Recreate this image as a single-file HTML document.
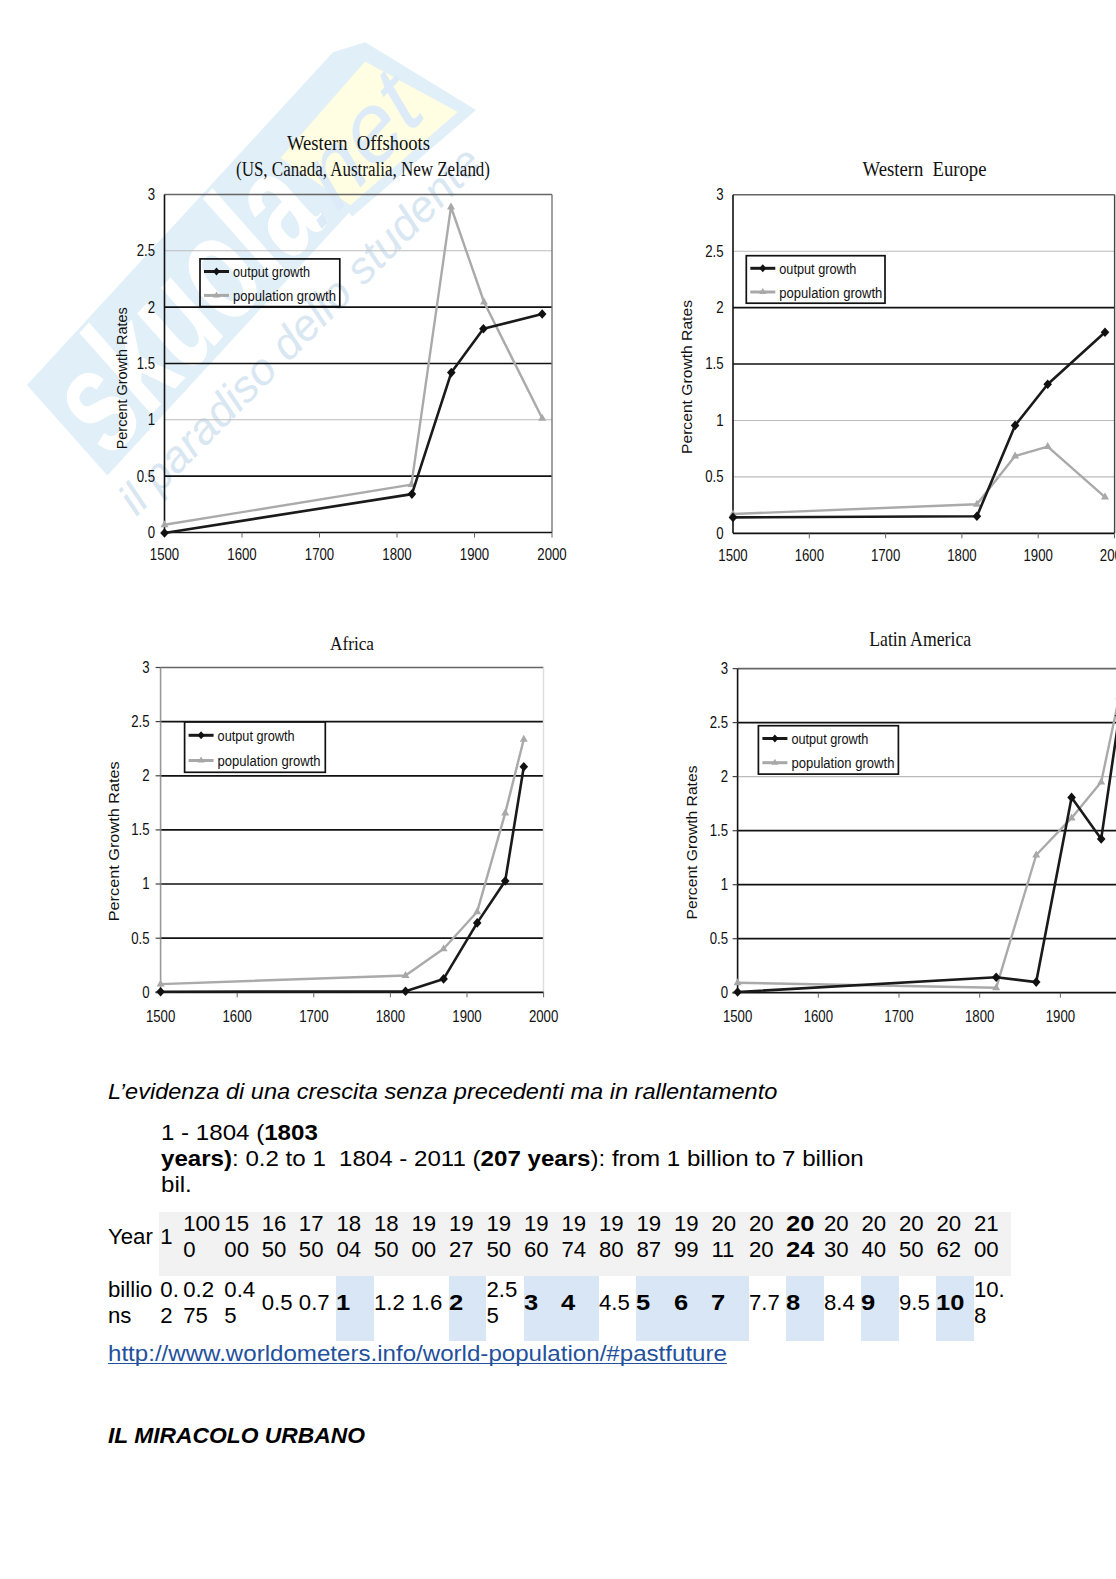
<!DOCTYPE html>
<html><head><meta charset="utf-8">
<style>
html,body{margin:0;padding:0;background:#fff;}
body{width:1116px;height:1579px;position:relative;overflow:hidden;font-family:"Liberation Sans",sans-serif;}
svg{position:absolute;left:0;top:0;}
.ax{font-family:"Liberation Sans",sans-serif;font-size:13.5px;fill:#111;}
.tt{font-family:"Liberation Serif",serif;font-size:19px;fill:#111;}
.t{position:absolute;white-space:nowrap;color:#000;font-size:21.5px;line-height:26px;transform-origin:0 0;transform:scaleX(1.121);}
.cell{position:absolute;white-space:nowrap;color:#000;font-size:22.2px;line-height:25.7px;transform-origin:0 0;}
b{font-weight:bold;}
.cell b{display:inline-block;transform-origin:0 0;transform:scaleX(1.15);}
</style></head><body>
<svg width="1116" height="1579" viewBox="0 0 1116 1579">
<g transform="matrix(0.677 -0.736 0.664 0.748 27 385)">
<polygon points="0,0 452,0 483,17 521,145 357,126 357,121 0,121" fill="#e1eff9"/>
<polygon points="342,33 470,30 506,133 363,117" fill="#fffde2"/>
<text x="10" y="112" fill="#fff" style="font-family:'Liberation Sans',sans-serif;font-weight:bold;font-size:150px" textLength="325" lengthAdjust="spacingAndGlyphs">skuola</text>
<text x="322" y="112" fill="#dcebf7" style="font-family:'Liberation Sans',sans-serif;font-style:italic;font-size:95px" textLength="160" lengthAdjust="spacingAndGlyphs">.net</text>
</g>
<g transform="translate(136.5 517) rotate(-45.4)">
<text x="0" y="0" fill="#d9e7f2" style="font-family:'Liberation Sans',sans-serif;font-style:italic;font-size:44px" textLength="495" lengthAdjust="spacingAndGlyphs">il paradiso dello studente</text>
</g>
</svg>
<svg width="1116" height="1579" viewBox="0 0 1116 1579">
<line x1="164.5" y1="194.5" x2="552" y2="194.5" stroke="#666" stroke-width="1.6"/>
<line x1="164.5" y1="250.8" x2="552" y2="250.8" stroke="#bbb" stroke-width="1.1"/>
<line x1="164.5" y1="307.2" x2="552" y2="307.2" stroke="#111" stroke-width="1.7"/>
<line x1="164.5" y1="363.5" x2="552" y2="363.5" stroke="#111" stroke-width="1.7"/>
<line x1="164.5" y1="419.8" x2="552" y2="419.8" stroke="#bbb" stroke-width="1.1"/>
<line x1="164.5" y1="476.2" x2="552" y2="476.2" stroke="#111" stroke-width="1.7"/>
<line x1="552" y1="194.5" x2="552" y2="532.5" stroke="#777" stroke-width="1.4"/>
<line x1="164.5" y1="532.5" x2="552" y2="532.5" stroke="#111" stroke-width="1.7"/>
<line x1="164.5" y1="194.5" x2="164.5" y2="532.5" stroke="#111" stroke-width="1.6"/>
<line x1="242" y1="532.5" x2="242" y2="537.5" stroke="#666" stroke-width="1"/>
<line x1="319.5" y1="532.5" x2="319.5" y2="537.5" stroke="#666" stroke-width="1"/>
<line x1="397" y1="532.5" x2="397" y2="537.5" stroke="#666" stroke-width="1"/>
<line x1="474.5" y1="532.5" x2="474.5" y2="537.5" stroke="#666" stroke-width="1"/>
<line x1="552" y1="532.5" x2="552" y2="537.5" stroke="#666" stroke-width="1"/>
<text transform="translate(155 199.8) scale(0.8 1)" text-anchor="end" class="ax" style="font-size:16.5px" fill="#111">3</text>
<text transform="translate(155 256.1) scale(0.8 1)" text-anchor="end" class="ax" style="font-size:16.5px" fill="#111">2.5</text>
<text transform="translate(155 312.5) scale(0.8 1)" text-anchor="end" class="ax" style="font-size:16.5px" fill="#111">2</text>
<text transform="translate(155 368.8) scale(0.8 1)" text-anchor="end" class="ax" style="font-size:16.5px" fill="#111">1.5</text>
<text transform="translate(155 425.1) scale(0.8 1)" text-anchor="end" class="ax" style="font-size:16.5px" fill="#111">1</text>
<text transform="translate(155 481.5) scale(0.8 1)" text-anchor="end" class="ax" style="font-size:16.5px" fill="#111">0.5</text>
<text transform="translate(155 537.8) scale(0.8 1)" text-anchor="end" class="ax" style="font-size:16.5px" fill="#111">0</text>
<text transform="translate(164.5 559.8) scale(0.8 1)" text-anchor="middle" class="ax" style="font-size:16.5px" fill="#111">1500</text>
<text transform="translate(242 559.8) scale(0.8 1)" text-anchor="middle" class="ax" style="font-size:16.5px" fill="#111">1600</text>
<text transform="translate(319.5 559.8) scale(0.8 1)" text-anchor="middle" class="ax" style="font-size:16.5px" fill="#111">1700</text>
<text transform="translate(397 559.8) scale(0.8 1)" text-anchor="middle" class="ax" style="font-size:16.5px" fill="#111">1800</text>
<text transform="translate(474.5 559.8) scale(0.8 1)" text-anchor="middle" class="ax" style="font-size:16.5px" fill="#111">1900</text>
<text transform="translate(552 559.8) scale(0.8 1)" text-anchor="middle" class="ax" style="font-size:16.5px" fill="#111">2000</text>
<text transform="translate(127.4 378.3) rotate(-90)" text-anchor="middle" class="ax" style="font-size:15.5px" textLength="142" lengthAdjust="spacingAndGlyphs">Percent Growth Rates</text>
<text x="287" y="149.6" class="tt" style="font-size:20px" textLength="143" lengthAdjust="spacingAndGlyphs">Western&#160; Offshoots</text>
<text x="236" y="176.4" class="tt" style="font-size:20.5px" textLength="254" lengthAdjust="spacingAndGlyphs">(US, Canada, Australia, New Zeland)</text>
<polyline points="164.5,524.8 411.4,484.6 451,207 484,302 542.2,418.3" fill="none" stroke="#aaa" stroke-width="2.4" stroke-linejoin="round"/>
<path d="M164.5 520.3l4 7h-8z" fill="#a8a8a8"/>
<path d="M411.4 480.1l4 7h-8z" fill="#a8a8a8"/>
<path d="M451 202.5l4 7h-8z" fill="#a8a8a8"/>
<path d="M484 297.5l4 7h-8z" fill="#a8a8a8"/>
<path d="M542.2 413.8l4 7h-8z" fill="#a8a8a8"/>
<polyline points="164.5,533 411.9,494.1 451.3,372.6 483.4,328.7 542.2,314" fill="none" stroke="#1a1a1a" stroke-width="2.6" stroke-linejoin="round"/>
<path d="M164.5 528.2l4.3 4.8l-4.3 4.8l-4.3 -4.8z" fill="#111"/>
<path d="M411.9 489.3l4.3 4.8l-4.3 4.8l-4.3 -4.8z" fill="#111"/>
<path d="M451.3 367.8l4.3 4.8l-4.3 4.8l-4.3 -4.8z" fill="#111"/>
<path d="M483.4 323.9l4.3 4.8l-4.3 4.8l-4.3 -4.8z" fill="#111"/>
<path d="M542.2 309.2l4.3 4.8l-4.3 4.8l-4.3 -4.8z" fill="#111"/>
<rect x="200" y="258.9" width="139.8" height="47.7" fill="none" stroke="#111" stroke-width="1.7"/>
<line x1="204" y1="271.5" x2="229" y2="271.5" stroke="#1a1a1a" stroke-width="3"/>
<path d="M216.5 267.5l3.5 4l-3.5 4l-3.5 -4z" fill="#111"/>
<line x1="204" y1="295.4" x2="229" y2="295.4" stroke="#a8a8a8" stroke-width="3"/>
<path d="M216.5 291.4l3.5 6h-7z" fill="#a8a8a8"/>
<text x="233" y="277" class="ax" style="font-size:15.3px" textLength="77" lengthAdjust="spacingAndGlyphs">output growth</text>
<text x="233" y="300.9" class="ax" style="font-size:15.3px" textLength="103" lengthAdjust="spacingAndGlyphs">population growth</text>
<line x1="733" y1="194.8" x2="1114.6" y2="194.8" stroke="#666" stroke-width="1.6"/>
<line x1="733" y1="251.2" x2="1114.6" y2="251.2" stroke="#bbb" stroke-width="1.1"/>
<line x1="733" y1="307.6" x2="1114.6" y2="307.6" stroke="#111" stroke-width="1.7"/>
<line x1="733" y1="364" x2="1114.6" y2="364" stroke="#111" stroke-width="1.7"/>
<line x1="733" y1="420.5" x2="1114.6" y2="420.5" stroke="#bbb" stroke-width="1.1"/>
<line x1="733" y1="476.9" x2="1114.6" y2="476.9" stroke="#bbb" stroke-width="1.1"/>
<line x1="1114.6" y1="194.8" x2="1114.6" y2="533.3" stroke="#444" stroke-width="1.4"/>
<line x1="733" y1="533.3" x2="1114.6" y2="533.3" stroke="#111" stroke-width="1.7"/>
<line x1="733" y1="194.8" x2="733" y2="533.3" stroke="#111" stroke-width="1.6"/>
<line x1="809.3" y1="533.3" x2="809.3" y2="538.3" stroke="#666" stroke-width="1"/>
<line x1="885.6" y1="533.3" x2="885.6" y2="538.3" stroke="#666" stroke-width="1"/>
<line x1="961.9" y1="533.3" x2="961.9" y2="538.3" stroke="#666" stroke-width="1"/>
<line x1="1038.2" y1="533.3" x2="1038.2" y2="538.3" stroke="#666" stroke-width="1"/>
<line x1="1114.5" y1="533.3" x2="1114.5" y2="538.3" stroke="#666" stroke-width="1"/>
<text transform="translate(723.5 200.1) scale(0.8 1)" text-anchor="end" class="ax" style="font-size:16.5px" fill="#111">3</text>
<text transform="translate(723.5 256.5) scale(0.8 1)" text-anchor="end" class="ax" style="font-size:16.5px" fill="#111">2.5</text>
<text transform="translate(723.5 312.9) scale(0.8 1)" text-anchor="end" class="ax" style="font-size:16.5px" fill="#111">2</text>
<text transform="translate(723.5 369.3) scale(0.8 1)" text-anchor="end" class="ax" style="font-size:16.5px" fill="#111">1.5</text>
<text transform="translate(723.5 425.8) scale(0.8 1)" text-anchor="end" class="ax" style="font-size:16.5px" fill="#111">1</text>
<text transform="translate(723.5 482.2) scale(0.8 1)" text-anchor="end" class="ax" style="font-size:16.5px" fill="#111">0.5</text>
<text transform="translate(723.5 538.6) scale(0.8 1)" text-anchor="end" class="ax" style="font-size:16.5px" fill="#111">0</text>
<text transform="translate(733 560.6) scale(0.8 1)" text-anchor="middle" class="ax" style="font-size:16.5px" fill="#111">1500</text>
<text transform="translate(809.3 560.6) scale(0.8 1)" text-anchor="middle" class="ax" style="font-size:16.5px" fill="#111">1600</text>
<text transform="translate(885.6 560.6) scale(0.8 1)" text-anchor="middle" class="ax" style="font-size:16.5px" fill="#111">1700</text>
<text transform="translate(961.9 560.6) scale(0.8 1)" text-anchor="middle" class="ax" style="font-size:16.5px" fill="#111">1800</text>
<text transform="translate(1038.2 560.6) scale(0.8 1)" text-anchor="middle" class="ax" style="font-size:16.5px" fill="#111">1900</text>
<text transform="translate(1114.5 560.6) scale(0.8 1)" text-anchor="middle" class="ax" style="font-size:16.5px" fill="#111">2000</text>
<text transform="translate(692.3 377) rotate(-90)" text-anchor="middle" class="ax" style="font-size:15.5px" textLength="154" lengthAdjust="spacingAndGlyphs">Percent Growth Rates</text>
<text x="862.5" y="175.5" class="tt" style="font-size:21px" textLength="124" lengthAdjust="spacingAndGlyphs">Western&#160; Europe</text>
<polyline points="733,514 976.9,504.3 1015.1,455.9 1047.7,446.6 1105,497.1" fill="none" stroke="#aaa" stroke-width="2.4" stroke-linejoin="round"/>
<path d="M733 509.5l4 7h-8z" fill="#a8a8a8"/>
<path d="M976.9 499.8l4 7h-8z" fill="#a8a8a8"/>
<path d="M1015.1 451.4l4 7h-8z" fill="#a8a8a8"/>
<path d="M1047.7 442.1l4 7h-8z" fill="#a8a8a8"/>
<path d="M1105 492.6l4 7h-8z" fill="#a8a8a8"/>
<polyline points="733,517.4 976.9,516.3 1015.1,425.4 1047.7,384.2 1105,332.3" fill="none" stroke="#1a1a1a" stroke-width="2.6" stroke-linejoin="round"/>
<path d="M733 512.6l4.3 4.8l-4.3 4.8l-4.3 -4.8z" fill="#111"/>
<path d="M976.9 511.5l4.3 4.8l-4.3 4.8l-4.3 -4.8z" fill="#111"/>
<path d="M1015.1 420.6l4.3 4.8l-4.3 4.8l-4.3 -4.8z" fill="#111"/>
<path d="M1047.7 379.4l4.3 4.8l-4.3 4.8l-4.3 -4.8z" fill="#111"/>
<path d="M1105 327.5l4.3 4.8l-4.3 4.8l-4.3 -4.8z" fill="#111"/>
<rect x="746.3" y="255.7" width="138.7" height="47.5" fill="none" stroke="#111" stroke-width="1.7"/>
<line x1="750.3" y1="268.3" x2="775.3" y2="268.3" stroke="#1a1a1a" stroke-width="3"/>
<path d="M762.8 264.3l3.5 4l-3.5 4l-3.5 -4z" fill="#111"/>
<line x1="750.3" y1="292" x2="775.3" y2="292" stroke="#a8a8a8" stroke-width="3"/>
<path d="M762.8 288l3.5 6h-7z" fill="#a8a8a8"/>
<text x="779.3" y="273.8" class="ax" style="font-size:15.3px" textLength="77" lengthAdjust="spacingAndGlyphs">output growth</text>
<text x="779.3" y="297.5" class="ax" style="font-size:15.3px" textLength="103" lengthAdjust="spacingAndGlyphs">population growth</text>
<line x1="160.6" y1="667.5" x2="543.5" y2="667.5" stroke="#666" stroke-width="1.6"/>
<line x1="160.6" y1="721.6" x2="543.5" y2="721.6" stroke="#111" stroke-width="1.7"/>
<line x1="160.6" y1="775.8" x2="543.5" y2="775.8" stroke="#111" stroke-width="1.7"/>
<line x1="160.6" y1="829.9" x2="543.5" y2="829.9" stroke="#111" stroke-width="1.7"/>
<line x1="160.6" y1="884" x2="543.5" y2="884" stroke="#111" stroke-width="1.7"/>
<line x1="160.6" y1="938.2" x2="543.5" y2="938.2" stroke="#111" stroke-width="1.7"/>
<line x1="543.5" y1="667.5" x2="543.5" y2="992.3" stroke="#ddd" stroke-width="1.4"/>
<line x1="155.6" y1="992.3" x2="543.5" y2="992.3" stroke="#111" stroke-width="1.7"/>
<line x1="160.6" y1="667.5" x2="160.6" y2="992.3" stroke="#999" stroke-width="1.6"/>
<line x1="155.6" y1="667.5" x2="160.6" y2="667.5" stroke="#444" stroke-width="1.2"/>
<line x1="155.6" y1="721.6" x2="160.6" y2="721.6" stroke="#444" stroke-width="1.2"/>
<line x1="155.6" y1="775.8" x2="160.6" y2="775.8" stroke="#444" stroke-width="1.2"/>
<line x1="155.6" y1="829.9" x2="160.6" y2="829.9" stroke="#444" stroke-width="1.2"/>
<line x1="155.6" y1="884" x2="160.6" y2="884" stroke="#444" stroke-width="1.2"/>
<line x1="155.6" y1="938.2" x2="160.6" y2="938.2" stroke="#444" stroke-width="1.2"/>
<line x1="155.6" y1="992.3" x2="160.6" y2="992.3" stroke="#444" stroke-width="1.2"/>
<line x1="237.2" y1="992.3" x2="237.2" y2="997.3" stroke="#666" stroke-width="1"/>
<line x1="313.8" y1="992.3" x2="313.8" y2="997.3" stroke="#666" stroke-width="1"/>
<line x1="390.4" y1="992.3" x2="390.4" y2="997.3" stroke="#666" stroke-width="1"/>
<line x1="467" y1="992.3" x2="467" y2="997.3" stroke="#666" stroke-width="1"/>
<line x1="543.6" y1="992.3" x2="543.6" y2="997.3" stroke="#666" stroke-width="1"/>
<text transform="translate(149.6 672.8) scale(0.8 1)" text-anchor="end" class="ax" style="font-size:16.5px" fill="#111">3</text>
<text transform="translate(149.6 726.9) scale(0.8 1)" text-anchor="end" class="ax" style="font-size:16.5px" fill="#111">2.5</text>
<text transform="translate(149.6 781.1) scale(0.8 1)" text-anchor="end" class="ax" style="font-size:16.5px" fill="#111">2</text>
<text transform="translate(149.6 835.2) scale(0.8 1)" text-anchor="end" class="ax" style="font-size:16.5px" fill="#111">1.5</text>
<text transform="translate(149.6 889.3) scale(0.8 1)" text-anchor="end" class="ax" style="font-size:16.5px" fill="#111">1</text>
<text transform="translate(149.6 943.5) scale(0.8 1)" text-anchor="end" class="ax" style="font-size:16.5px" fill="#111">0.5</text>
<text transform="translate(149.6 997.6) scale(0.8 1)" text-anchor="end" class="ax" style="font-size:16.5px" fill="#111">0</text>
<text transform="translate(160.6 1021.5) scale(0.8 1)" text-anchor="middle" class="ax" style="font-size:16.5px" fill="#111">1500</text>
<text transform="translate(237.2 1021.5) scale(0.8 1)" text-anchor="middle" class="ax" style="font-size:16.5px" fill="#111">1600</text>
<text transform="translate(313.8 1021.5) scale(0.8 1)" text-anchor="middle" class="ax" style="font-size:16.5px" fill="#111">1700</text>
<text transform="translate(390.4 1021.5) scale(0.8 1)" text-anchor="middle" class="ax" style="font-size:16.5px" fill="#111">1800</text>
<text transform="translate(467 1021.5) scale(0.8 1)" text-anchor="middle" class="ax" style="font-size:16.5px" fill="#111">1900</text>
<text transform="translate(543.6 1021.5) scale(0.8 1)" text-anchor="middle" class="ax" style="font-size:16.5px" fill="#111">2000</text>
<text transform="translate(119.3 841.3) rotate(-90)" text-anchor="middle" class="ax" style="font-size:15.5px" textLength="160" lengthAdjust="spacingAndGlyphs">Percent Growth Rates</text>
<text x="330" y="649.6" class="tt" style="font-size:19.5px" textLength="44" lengthAdjust="spacingAndGlyphs">Africa</text>
<polyline points="160.6,984.1 405.5,975.5 443.6,948.7 477.2,911.7 505.2,813.1 523.8,739.2" fill="none" stroke="#aaa" stroke-width="2.4" stroke-linejoin="round"/>
<path d="M160.6 979.6l4 7h-8z" fill="#a8a8a8"/>
<path d="M405.5 971l4 7h-8z" fill="#a8a8a8"/>
<path d="M443.6 944.2l4 7h-8z" fill="#a8a8a8"/>
<path d="M477.2 907.2l4 7h-8z" fill="#a8a8a8"/>
<path d="M505.2 808.6l4 7h-8z" fill="#a8a8a8"/>
<path d="M523.8 734.7l4 7h-8z" fill="#a8a8a8"/>
<polyline points="160.6,991.7 405.5,991.2 443.6,978.9 477.2,922.9 505.2,881 523.8,766.8" fill="none" stroke="#1a1a1a" stroke-width="2.6" stroke-linejoin="round"/>
<path d="M160.6 986.9l4.3 4.8l-4.3 4.8l-4.3 -4.8z" fill="#111"/>
<path d="M405.5 986.4l4.3 4.8l-4.3 4.8l-4.3 -4.8z" fill="#111"/>
<path d="M443.6 974.1l4.3 4.8l-4.3 4.8l-4.3 -4.8z" fill="#111"/>
<path d="M477.2 918.1l4.3 4.8l-4.3 4.8l-4.3 -4.8z" fill="#111"/>
<path d="M505.2 876.2l4.3 4.8l-4.3 4.8l-4.3 -4.8z" fill="#111"/>
<path d="M523.8 762l4.3 4.8l-4.3 4.8l-4.3 -4.8z" fill="#111"/>
<rect x="184.6" y="721.9" width="140.7" height="50.4" fill="none" stroke="#111" stroke-width="1.7"/>
<line x1="188.6" y1="735.3" x2="213.6" y2="735.3" stroke="#1a1a1a" stroke-width="3"/>
<path d="M201.1 731.3l3.5 4l-3.5 4l-3.5 -4z" fill="#111"/>
<line x1="188.6" y1="760.5" x2="213.6" y2="760.5" stroke="#a8a8a8" stroke-width="3"/>
<path d="M201.1 756.5l3.5 6h-7z" fill="#a8a8a8"/>
<text x="217.6" y="740.8" class="ax" style="font-size:15.3px" textLength="77" lengthAdjust="spacingAndGlyphs">output growth</text>
<text x="217.6" y="766" class="ax" style="font-size:15.3px" textLength="103" lengthAdjust="spacingAndGlyphs">population growth</text>
<line x1="737.6" y1="668.6" x2="1120" y2="668.6" stroke="#666" stroke-width="1.6"/>
<line x1="737.6" y1="722.6" x2="1120" y2="722.6" stroke="#111" stroke-width="1.7"/>
<line x1="737.6" y1="776.6" x2="1120" y2="776.6" stroke="#bbb" stroke-width="1.1"/>
<line x1="737.6" y1="830.7" x2="1120" y2="830.7" stroke="#111" stroke-width="1.7"/>
<line x1="737.6" y1="884.7" x2="1120" y2="884.7" stroke="#111" stroke-width="1.7"/>
<line x1="737.6" y1="938.7" x2="1120" y2="938.7" stroke="#111" stroke-width="1.7"/>
<line x1="732.6" y1="992.7" x2="1120" y2="992.7" stroke="#111" stroke-width="1.7"/>
<line x1="737.6" y1="668.6" x2="737.6" y2="992.7" stroke="#111" stroke-width="1.6"/>
<line x1="732.6" y1="668.6" x2="737.6" y2="668.6" stroke="#444" stroke-width="1.2"/>
<line x1="732.6" y1="722.6" x2="737.6" y2="722.6" stroke="#444" stroke-width="1.2"/>
<line x1="732.6" y1="776.6" x2="737.6" y2="776.6" stroke="#444" stroke-width="1.2"/>
<line x1="732.6" y1="830.7" x2="737.6" y2="830.7" stroke="#444" stroke-width="1.2"/>
<line x1="732.6" y1="884.7" x2="737.6" y2="884.7" stroke="#444" stroke-width="1.2"/>
<line x1="732.6" y1="938.7" x2="737.6" y2="938.7" stroke="#444" stroke-width="1.2"/>
<line x1="732.6" y1="992.7" x2="737.6" y2="992.7" stroke="#444" stroke-width="1.2"/>
<line x1="818.3" y1="992.7" x2="818.3" y2="997.7" stroke="#666" stroke-width="1"/>
<line x1="899" y1="992.7" x2="899" y2="997.7" stroke="#666" stroke-width="1"/>
<line x1="979.7" y1="992.7" x2="979.7" y2="997.7" stroke="#666" stroke-width="1"/>
<line x1="1060.4" y1="992.7" x2="1060.4" y2="997.7" stroke="#666" stroke-width="1"/>
<line x1="1141.1" y1="992.7" x2="1141.1" y2="997.7" stroke="#666" stroke-width="1"/>
<text transform="translate(728.1 673.9) scale(0.8 1)" text-anchor="end" class="ax" style="font-size:16.5px" fill="#111">3</text>
<text transform="translate(728.1 727.9) scale(0.8 1)" text-anchor="end" class="ax" style="font-size:16.5px" fill="#111">2.5</text>
<text transform="translate(728.1 781.9) scale(0.8 1)" text-anchor="end" class="ax" style="font-size:16.5px" fill="#111">2</text>
<text transform="translate(728.1 836) scale(0.8 1)" text-anchor="end" class="ax" style="font-size:16.5px" fill="#111">1.5</text>
<text transform="translate(728.1 890) scale(0.8 1)" text-anchor="end" class="ax" style="font-size:16.5px" fill="#111">1</text>
<text transform="translate(728.1 944) scale(0.8 1)" text-anchor="end" class="ax" style="font-size:16.5px" fill="#111">0.5</text>
<text transform="translate(728.1 998) scale(0.8 1)" text-anchor="end" class="ax" style="font-size:16.5px" fill="#111">0</text>
<text transform="translate(737.6 1021.7) scale(0.8 1)" text-anchor="middle" class="ax" style="font-size:16.5px" fill="#111">1500</text>
<text transform="translate(818.3 1021.7) scale(0.8 1)" text-anchor="middle" class="ax" style="font-size:16.5px" fill="#111">1600</text>
<text transform="translate(899 1021.7) scale(0.8 1)" text-anchor="middle" class="ax" style="font-size:16.5px" fill="#111">1700</text>
<text transform="translate(979.7 1021.7) scale(0.8 1)" text-anchor="middle" class="ax" style="font-size:16.5px" fill="#111">1800</text>
<text transform="translate(1060.4 1021.7) scale(0.8 1)" text-anchor="middle" class="ax" style="font-size:16.5px" fill="#111">1900</text>
<text transform="translate(1141.1 1021.7) scale(0.8 1)" text-anchor="middle" class="ax" style="font-size:16.5px" fill="#111">2000</text>
<text transform="translate(697.3 842.5) rotate(-90)" text-anchor="middle" class="ax" style="font-size:15.5px" textLength="154" lengthAdjust="spacingAndGlyphs">Percent Growth Rates</text>
<text x="869.2" y="645.7" class="tt" style="font-size:21.5px" textLength="102" lengthAdjust="spacingAndGlyphs">Latin America</text>
<polyline points="737.6,982.7 996.2,987.8 1036.2,855 1071.6,817.9 1101.2,782.1 1119.3,696.3" fill="none" stroke="#aaa" stroke-width="2.4" stroke-linejoin="round"/>
<path d="M737.6 978.2l4 7h-8z" fill="#a8a8a8"/>
<path d="M996.2 983.3l4 7h-8z" fill="#a8a8a8"/>
<path d="M1036.2 850.5l4 7h-8z" fill="#a8a8a8"/>
<path d="M1071.6 813.4l4 7h-8z" fill="#a8a8a8"/>
<path d="M1101.2 777.6l4 7h-8z" fill="#a8a8a8"/>
<path d="M1119.3 691.8l4 7h-8z" fill="#a8a8a8"/>
<polyline points="737.6,992 996.2,977.2 1036.2,982.1 1071.6,797.4 1101.2,838.9 1119.3,715.5" fill="none" stroke="#1a1a1a" stroke-width="2.6" stroke-linejoin="round"/>
<path d="M737.6 987.2l4.3 4.8l-4.3 4.8l-4.3 -4.8z" fill="#111"/>
<path d="M996.2 972.4l4.3 4.8l-4.3 4.8l-4.3 -4.8z" fill="#111"/>
<path d="M1036.2 977.3l4.3 4.8l-4.3 4.8l-4.3 -4.8z" fill="#111"/>
<path d="M1071.6 792.6l4.3 4.8l-4.3 4.8l-4.3 -4.8z" fill="#111"/>
<path d="M1101.2 834.1l4.3 4.8l-4.3 4.8l-4.3 -4.8z" fill="#111"/>
<path d="M1119.3 710.7l4.3 4.8l-4.3 4.8l-4.3 -4.8z" fill="#111"/>
<rect x="758.4" y="725.7" width="140" height="48.4" fill="none" stroke="#111" stroke-width="1.7"/>
<line x1="762.4" y1="738.5" x2="787.4" y2="738.5" stroke="#1a1a1a" stroke-width="3"/>
<path d="M774.9 734.5l3.5 4l-3.5 4l-3.5 -4z" fill="#111"/>
<line x1="762.4" y1="762.7" x2="787.4" y2="762.7" stroke="#a8a8a8" stroke-width="3"/>
<path d="M774.9 758.7l3.5 6h-7z" fill="#a8a8a8"/>
<text x="791.4" y="744" class="ax" style="font-size:15.3px" textLength="77" lengthAdjust="spacingAndGlyphs">output growth</text>
<text x="791.4" y="768.2" class="ax" style="font-size:15.3px" textLength="103" lengthAdjust="spacingAndGlyphs">population growth</text>
</svg>
<div class="t" style="left:108px;top:1078.5px;font-style:italic;transform:scaleX(1.096);">L&#8217;evidenza di una crescita senza precedenti ma in rallentamento</div>
<div class="t" style="left:161px;top:1119.5px;">1 - 1804 (<b>1803</b></div>
<div class="t" style="left:161px;top:1145.5px;"><b>years)</b>: 0.2 to 1</div>
<div class="t" style="left:161px;top:1171.5px;">bil.</div>
<div class="t" style="left:339px;top:1145.5px;">1804 - 2011 (<b>207 years</b>): from 1 billion to 7 billion</div>
<div style="position:absolute;left:159px;top:1212px;width:852px;height:64px;background:#f2f2f2;"></div>
<div style="position:absolute;left:336px;top:1276px;width:37.5px;height:65px;background:#d9e6f6;"></div>
<div style="position:absolute;left:448.5px;top:1276px;width:37.5px;height:65px;background:#d9e6f6;"></div>
<div style="position:absolute;left:523.5px;top:1276px;width:37.5px;height:65px;background:#d9e6f6;"></div>
<div style="position:absolute;left:561px;top:1276px;width:37.5px;height:65px;background:#d9e6f6;"></div>
<div style="position:absolute;left:636px;top:1276px;width:37.5px;height:65px;background:#d9e6f6;"></div>
<div style="position:absolute;left:673.5px;top:1276px;width:37.5px;height:65px;background:#d9e6f6;"></div>
<div style="position:absolute;left:711px;top:1276px;width:37.5px;height:65px;background:#d9e6f6;"></div>
<div style="position:absolute;left:786px;top:1276px;width:37.5px;height:65px;background:#d9e6f6;"></div>
<div style="position:absolute;left:861px;top:1276px;width:37.5px;height:65px;background:#d9e6f6;"></div>
<div style="position:absolute;left:936px;top:1276px;width:37.5px;height:65px;background:#d9e6f6;"></div>
<div class="cell" style="left:108px;top:1224px;">Year</div>
<div class="cell" style="left:108px;top:1277px;">billio<br>ns</div>
<div class="cell" style="left:160.3px;top:1224px;">1</div>
<div class="cell" style="left:183.2px;top:1211px;">100<br>0</div>
<div class="cell" style="left:224.3px;top:1211px;">15<br>00</div>
<div class="cell" style="left:261.7px;top:1211px;">16<br>50</div>
<div class="cell" style="left:298.8px;top:1211px;">17<br>50</div>
<div class="cell" style="left:336.4px;top:1211px;">18<br>04</div>
<div class="cell" style="left:373.9px;top:1211px;">18<br>50</div>
<div class="cell" style="left:411.4px;top:1211px;">19<br>00</div>
<div class="cell" style="left:448.9px;top:1211px;">19<br>27</div>
<div class="cell" style="left:486.4px;top:1211px;">19<br>50</div>
<div class="cell" style="left:523.9px;top:1211px;">19<br>60</div>
<div class="cell" style="left:561.4px;top:1211px;">19<br>74</div>
<div class="cell" style="left:598.9px;top:1211px;">19<br>80</div>
<div class="cell" style="left:636.4px;top:1211px;">19<br>87</div>
<div class="cell" style="left:673.9px;top:1211px;">19<br>99</div>
<div class="cell" style="left:711.4px;top:1211px;">20<br>11</div>
<div class="cell" style="left:748.9px;top:1211px;">20<br>20</div>
<div class="cell" style="left:786.4px;top:1211px;"><b>20<br>24</b></div>
<div class="cell" style="left:823.9px;top:1211px;">20<br>30</div>
<div class="cell" style="left:861.4px;top:1211px;">20<br>40</div>
<div class="cell" style="left:898.9px;top:1211px;">20<br>50</div>
<div class="cell" style="left:936.4px;top:1211px;">20<br>62</div>
<div class="cell" style="left:973.9px;top:1211px;">21<br>00</div>
<div class="cell" style="left:160.3px;top:1277px;">0.<br>2</div>
<div class="cell" style="left:183.2px;top:1277px;">0.2<br>75</div>
<div class="cell" style="left:224.3px;top:1277px;">0.4<br>5</div>
<div class="cell" style="left:261.7px;top:1290px;">0.5</div>
<div class="cell" style="left:298.8px;top:1290px;">0.7</div>
<div class="cell" style="left:336.4px;top:1290px;"><b>1</b></div>
<div class="cell" style="left:373.9px;top:1290px;">1.2</div>
<div class="cell" style="left:411.4px;top:1290px;">1.6</div>
<div class="cell" style="left:448.9px;top:1290px;"><b>2</b></div>
<div class="cell" style="left:486.4px;top:1277px;">2.5<br>5</div>
<div class="cell" style="left:523.9px;top:1290px;"><b>3</b></div>
<div class="cell" style="left:561.4px;top:1290px;"><b>4</b></div>
<div class="cell" style="left:598.9px;top:1290px;">4.5</div>
<div class="cell" style="left:636.4px;top:1290px;"><b>5</b></div>
<div class="cell" style="left:673.9px;top:1290px;"><b>6</b></div>
<div class="cell" style="left:711.4px;top:1290px;"><b>7</b></div>
<div class="cell" style="left:748.9px;top:1290px;">7.7</div>
<div class="cell" style="left:786.4px;top:1290px;"><b>8</b></div>
<div class="cell" style="left:823.9px;top:1290px;">8.4</div>
<div class="cell" style="left:861.4px;top:1290px;"><b>9</b></div>
<div class="cell" style="left:898.9px;top:1290px;">9.5</div>
<div class="cell" style="left:936.4px;top:1290px;"><b>10</b></div>
<div class="cell" style="left:973.9px;top:1277px;">10.<br>8</div>
<div class="t" style="left:108px;top:1340.5px;color:#1f519c;text-decoration:underline;text-decoration-thickness:1.2px;text-decoration-skip-ink:none;text-underline-offset:2px;">http://www.worldometers.info/world-population/#pastfuture</div>
<div class="t" style="left:108px;top:1422.5px;font-weight:bold;font-style:italic;transform:scaleX(1.062);">IL MIRACOLO URBANO</div>
</body></html>
